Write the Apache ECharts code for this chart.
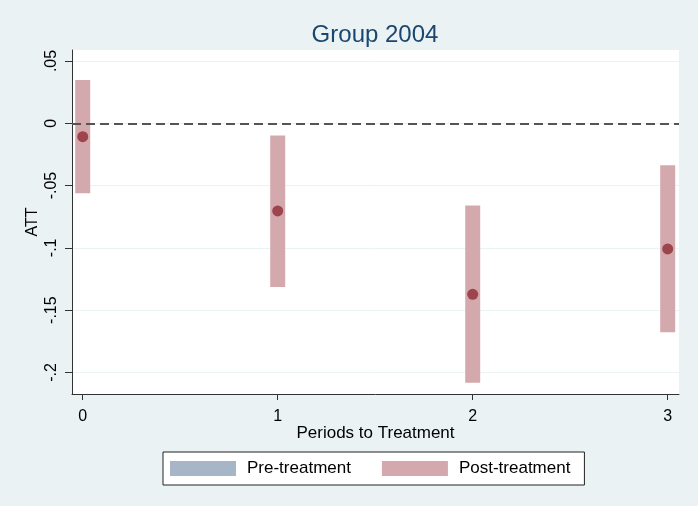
<!DOCTYPE html>
<html>
<head>
<meta charset="utf-8">
<script src="https://cdn.jsdelivr.net/npm/echarts@6/dist/echarts.min.js"></script>
<style>
    html, body { margin: 0; padding: 0; background: #EAF2F3; }
    #chart { width: 698px; height: 506px; }
</style>
</head>
<body>
<div id="chart"></div>
<script>
// periods to treatment
var periods = [0, 1, 2, 3];
// point estimates
var attValues = [-0.0108, -0.0704, -0.1373, -0.1009];
// confidence interval bounds
var ciLow = [-0.0562, -0.1314, -0.2082, -0.1677];
var ciHigh = [0.0348, -0.0099, -0.0661, -0.0337];
// tick labels
var xTicks = [0, 1, 2, 3];
var yTicks = [-0.2, -0.15, -0.1, -0.05, 0, 0.05];

var FONT = "Liberation Sans, Arial, sans-serif";
var postColor = "#D4A9AD";
var preColor = "#A6B6C6";
var dotColor = "#8E2A35";

var ciData = [];
var pointData = [];
for (var i = 0; i < periods.length; i++) {
    ciData.push([periods[i], ciLow[i], ciHigh[i]]);
    pointData.push([periods[i], attValues[i]]);
}

function stataNum(v) {
    if (v === 0) return "0";
    var s = String(Math.abs(+v.toFixed(4))).replace(/^0/, "");
    return (v < 0 ? "-" : "") + s;
}

function renderCi(params, api) {
    var x = api.value(0);
    var top = api.coord([x, api.value(2)]);
    var bottom = api.coord([x, api.value(1)]);
    return {
        type: "rect",
        shape: {x: top[0] - 7.5, y: top[1], width: 15, height: bottom[1] - top[1]},
        style: {fill: api.visual("color")}
    };
}

var option = {
    backgroundColor: "#EAF2F3",
    animation: false,
    textStyle: {fontFamily: FONT},
    title: {
        text: "Group 2004",
        left: 375,
        textAlign: "center",
        top: 23,
        padding: 0,
        textStyle: {color: "#1A476F", fontSize: 24, fontWeight: "normal", fontFamily: FONT}
    },
    legend: {
        left: 163,
        top: 452,
        padding: [8, 14, 8, 7],
        itemWidth: 66,
        itemHeight: 15,
        itemGap: 31,
        icon: "rect",
        backgroundColor: "#fff",
        borderColor: "#222",
        borderWidth: 1,
        borderRadius: 0,
        data: ["Pre-treatment", "Post-treatment"],
        textStyle: {color: "#000", fontSize: 17, fontFamily: FONT, padding: [0, 0, 0, 6]}
    },
    grid: {
        left: 72,
        right: 19,
        top: 50,
        bottom: 112,
        show: true,
        backgroundColor: "#fff",
        borderWidth: 0
    },
    xAxis: {
        type: "value",
        min: -0.055,
        max: 3.058,
        name: "Periods to Treatment",
        nameLocation: "middle",
        nameGap: 31,
        nameMoveOverlap: false,
        nameTextStyle: {color: "#000", fontSize: 17, fontFamily: FONT},
        axisLine: {show: true, onZero: false, lineStyle: {color: "#333", width: 1}},
        axisTick: {show: true, length: 6, customValues: xTicks, lineStyle: {color: "#333"}},
        axisLabel: {customValues: xTicks, color: "#000", fontSize: 16, margin: 15},
        splitLine: {show: false}
    },
    yAxis: {
        type: "value",
        min: -0.2173,
        max: 0.0588,
        name: "ATT",
        nameLocation: "middle",
        nameGap: 31,
        nameRotate: 90,
        nameMoveOverlap: false,
        nameTextStyle: {color: "#000", fontSize: 16, fontFamily: FONT},
        axisLine: {show: true, onZero: false, lineStyle: {color: "#333", width: 1}},
        axisTick: {show: true, length: 7, customValues: yTicks, lineStyle: {color: "#333"}},
        axisLabel: {
            customValues: yTicks,
            rotate: 90,
            color: "#000",
            fontSize: 16,
            margin: 12,
            formatter: stataNum
        },
        splitLine: {show: true, lineStyle: {color: "#EAF2F3", width: 1}}
    },
    series: [
        {
            name: "Pre-treatment",
            type: "custom",
            itemStyle: {color: preColor},
            renderItem: renderCi,
            data: []
        },
        {
            name: "Post-treatment",
            type: "custom",
            itemStyle: {color: postColor},
            renderItem: renderCi,
            encode: {x: 0, y: [1, 2]},
            data: ciData,
            z: 2
        },
        {
            name: "ATT",
            type: "scatter",
            symbolSize: 11,
            itemStyle: {color: dotColor},
            data: pointData,
            z: 4,
            markLine: {
                silent: true,
                symbol: "none",
                label: {show: false},
                lineStyle: {type: [9, 5], color: "#555", width: 2},
                data: [{yAxis: 0}]
            }
        }
    ]
};

var chart = echarts.init(document.getElementById("chart"));
chart.setOption(option);
</script>
</body>
</html>
